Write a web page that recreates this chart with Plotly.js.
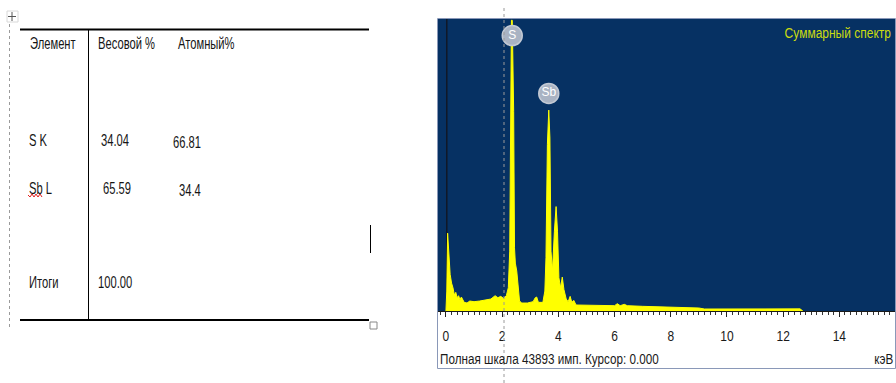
<!DOCTYPE html>
<html>
<head>
<meta charset="utf-8">
<script src="https://cdn.plot.ly/plotly-3.0.1.min.js"></script>
<style>html,body{margin:0;padding:0;background:#fff;}#chart{width:896px;height:383px;}</style>
</head>
<body>
<div id="chart"></div>
<script>
// ---- Table data ----
const tableHeaders = ['Элемент', 'Весовой %', 'Атомный%'];
const elements = ['S K', 'Sb L', 'Итоги'];
const weightPct = ['34.04', '65.59', '100.00'];
const atomicPct = ['66.81', '34.4', ''];

// ---- Spectrum data (keV, counts) ----
const energyKeV = [0.00, 0.03, 0.06, 0.10, 0.15, 0.20, 0.25, 0.30, 0.35, 0.40, 0.45, 0.50, 0.55, 0.65, 0.75, 0.85, 1.00, 1.20, 1.40, 1.60, 1.75, 1.85, 1.95, 2.05, 2.15, 2.22, 2.27, 2.30, 2.33, 2.36, 2.41, 2.44, 2.47, 2.52, 2.57, 2.62, 2.70, 2.90, 3.10, 3.18, 3.23, 3.29, 3.45, 3.52, 3.56, 3.61, 3.66, 3.70, 3.74, 3.79, 3.86, 3.92, 3.97, 4.02, 4.08, 4.14, 4.20, 4.28, 4.35, 4.42, 4.48, 4.55, 4.63, 5.00, 5.50, 6.00, 6.10, 6.20, 6.35, 6.45, 7.00, 8.00, 8.90, 9.00, 9.20, 10.0, 11.0, 12.0, 12.6, 12.7];
const counts =    [0, 3000, 11700, 9000, 5500, 4200, 3500, 2400, 2800, 2000, 2300, 1700, 2100, 1300, 1200, 1500, 1400, 1500, 1700, 1800, 2300, 2000, 2200, 1900, 2300, 3500, 9000, 38000, 43700, 43700, 30000, 9500, 7200, 6000, 4000, 1500, 1200, 1200, 1400, 2000, 2100, 1300, 1300, 3000, 8000, 25000, 30200, 26000, 9000, 6000, 12000, 15700, 12000, 5000, 3500, 5100, 3200, 1800, 1400, 2200, 1300, 1600, 900, 900, 850, 800, 1100, 800, 1000, 800, 700, 600, 550, 450, 300, 300, 280, 280, 320, 0];
const peakLabels = ['S', 'Sb'];
const peakLabelKeV = [2.36, 3.66];
const peakLabelCounts = [41400, 32700];
const xTickVals = [0, 2, 4, 6, 8, 10, 12, 14];
const fullScale = 43893;
const footerText = 'Полная шкала ' + fullScale + ' имп. Курсор: 0.000';
const spectrumTitle = 'Суммарный спектр';
const unitLabel = 'кэВ';

// ---- helpers (pixel -> paper) ----
const W = 896, H = 383;
const px = x => x / W;
const py = y => 1 - y / H;
const FONT = '"Liberation Sans", Arial, sans-serif';

const traces = [
  {
    type: 'scatter', mode: 'lines', x: energyKeV, y: counts,
    fill: 'tozeroy', fillcolor: '#ffff00',
    line: {color: '#ffff00', width: 1, shape: 'linear'},
    hoverinfo: 'skip', showlegend: false
  },
  {
    type: 'scatter', mode: 'markers+text', x: peakLabelKeV, y: peakLabelCounts,
    text: peakLabels, textposition: 'middle center',
    textfont: {family: FONT, size: 12, color: '#ffffff'},
    marker: {size: 20, color: '#a9b3c3', line: {color: '#c2c9d4', width: 1.5}},
    hoverinfo: 'skip', showlegend: false
  }
];

const annotations = [];
const annScale = []; // [scaleX, anchor]
function addAnn(x, y, text, anchor, size, color, sx) {
  annotations.push({xref: 'paper', yref: 'paper', x: px(x), y: py(y), text: text, showarrow: false,
    xanchor: anchor, yanchor: 'middle', font: {family: FONT, size: size, color: color}});
  annScale.push([sx, anchor]);
}
const headerX = [28, 96, 176];
tableHeaders.forEach((t, i) => addAnn(headerX[i], 43, t, 'left', 16, '#151515', 0.7));
const rowY = [140, 188, 282];
const wX = [99, 101, 96];
const aX = [171, 177, 177];
const aDy = [2, 2, 0];
elements.forEach((t, i) => {
  addAnn(27, rowY[i], t, 'left', 16, '#151515', 0.7);
  addAnn(wX[i], rowY[i], weightPct[i], 'left', 16, '#151515', 0.7);
  if (atomicPct[i]) addAnn(aX[i], rowY[i] + aDy[i], atomicPct[i], 'left', 16, '#151515', 0.7);
});
addAnn(893, 33, spectrumTitle, 'right', 15, '#cbdc10', 0.8);
addAnn(438, 358, footerText, 'left', 15, '#1a1a1a', 0.78);
addAnn(895, 358, unitLabel, 'right', 15, '#1a1a1a', 0.78);

// squiggle under "Sb"
let sq = 'M' + px(28) + ',' + py(195);
for (let k = 1; k <= 7; k++) sq += ' L' + px(28 + 2 * k) + ',' + py(k % 2 ? 197 : 194);

const shapes = [
  {type: 'line', xref: 'paper', yref: 'paper', x0: px(20), x1: px(369), y0: py(29.5), y1: py(29.5), line: {color: '#000', width: 2}},
  {type: 'line', xref: 'paper', yref: 'paper', x0: px(20), x1: px(369), y0: py(320), y1: py(320), line: {color: '#000', width: 2}},
  {type: 'line', xref: 'paper', yref: 'paper', x0: px(88.5), x1: px(88.5), y0: py(29), y1: py(320), line: {color: '#000', width: 1}},
  {type: 'line', xref: 'paper', yref: 'paper', x0: px(370.5), x1: px(370.5), y0: py(225), y1: py(253), line: {color: '#000', width: 1}},
  {type: 'line', xref: 'paper', yref: 'paper', x0: px(9.5), x1: px(9.5), y0: py(24), y1: py(330), line: {color: '#9a9a9a', width: 1, dash: 'dot'}},
  {type: 'rect', xref: 'paper', yref: 'paper', x0: px(370), x1: px(377), y0: py(322), y1: py(329), line: {color: '#888', width: 1}},
  {type: 'rect', xref: 'paper', yref: 'paper', x0: px(7), x1: px(18), y0: py(11), y1: py(22), line: {color: '#d8d8d8', width: 1}},
  {type: 'line', xref: 'paper', yref: 'paper', x0: px(8), x1: px(16), y0: py(16.5), y1: py(16.5), line: {color: '#555', width: 1}},
  {type: 'line', xref: 'paper', yref: 'paper', x0: px(12), x1: px(12), y0: py(12), y1: py(21), line: {color: '#555', width: 1}},
  {type: 'path', xref: 'paper', yref: 'paper', path: sq, line: {color: '#e02020', width: 1}},
  {type: 'rect', xref: 'paper', yref: 'paper', x0: px(437.5), x1: px(895.5), y0: py(368.5), y1: py(18.5), line: {color: '#8a98b8', width: 1}, layer: 'below'},
  {type: 'line', xref: 'x', yref: 'paper', x0: 0.03, x1: 0.03, y0: py(311), y1: py(19), line: {color: '#111827', width: 1.5}, layer: 'below'},
  {type: 'line', xref: 'paper', yref: 'paper', x0: px(504), x1: px(504), y0: py(8), y1: py(383), line: {color: '#9a9a9a', width: 1, dash: 'dot'}}
];

const layout = {
  width: W, height: H,
  margin: {l: 0, r: 0, t: 0, b: 0},
  paper_bgcolor: '#ffffff',
  plot_bgcolor: '#063163',
  showlegend: false,
  xaxis: {
    domain: [px(437.5), px(895)], range: [-0.3, 15.98],
    tickmode: 'array', tickvals: xTickVals,
    ticks: 'outside', ticklen: 5, tickcolor: '#222', tickwidth: 1,
    minor: {dtick: 0.2, ticks: 'outside', ticklen: 3, tickcolor: '#333', tickwidth: 1},
    showline: true, linecolor: '#1a1a1a', linewidth: 1,
    showgrid: false, zeroline: false,
    ticklabelstandoff: 6,
    tickfont: {family: FONT, size: 15, color: '#1a1a1a'}
  },
  yaxis: {
    domain: [py(311), py(19)], range: [0, fullScale],
    showticklabels: false, ticks: '', showgrid: false, zeroline: false, showline: false
  },
  annotations: annotations,
  shapes: shapes
};

function condense(el, sx, anchor) {
  const b = el.getBBox();
  const cx = anchor === 'left' ? b.x : anchor === 'right' ? b.x + b.width : b.x + b.width / 2;
  const prev = el.getAttribute('transform') || '';
  el.setAttribute('transform', prev + ' translate(' + cx + ',0) scale(' + sx + ',1) translate(' + (-cx) + ',0)');
}

Plotly.newPlot('chart', traces, layout, {staticPlot: true, displayModeBar: false}).then(gd => {
  gd.querySelectorAll('g.annotation').forEach(g => {
    const i = +g.getAttribute('data-index');
    const t = g.querySelector('text');
    if (t && annScale[i]) condense(t, annScale[i][0], annScale[i][1]);
  });
  gd.querySelectorAll('.xtick text').forEach(t => condense(t, 0.8, 'center'));
});
</script>
</body>
</html>
